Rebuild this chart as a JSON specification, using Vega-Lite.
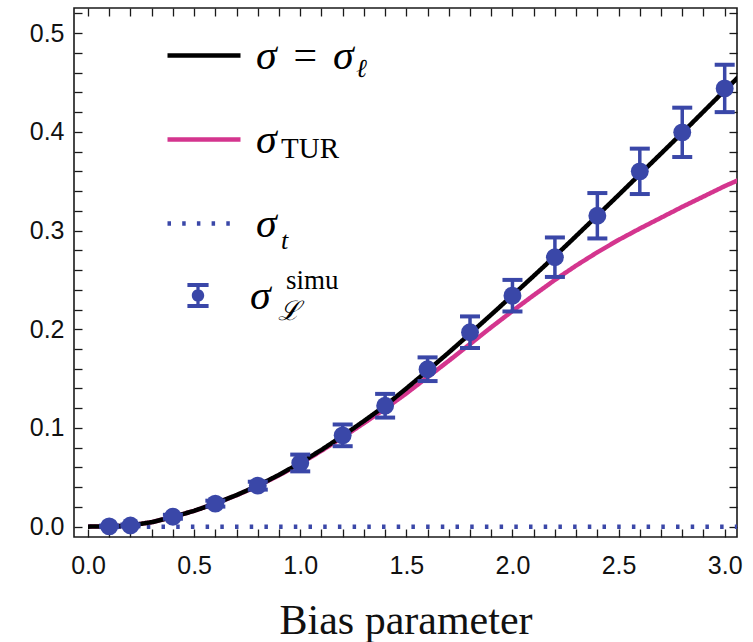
{
  "$schema": "https://vega.github.io/schema/vega-lite/v6.json",
  "width": 663,
  "height": 529,
  "autosize": {"type": "none"},
  "padding": {"left": 74, "top": 8, "right": 16, "bottom": 105},
  "background": "white",
  "config": {
    "view": {"stroke": "#1a1a1a", "strokeWidth": 1.6},
    "axis": {
      "grid": false,
      "domain": false,
      "labelFont": "Liberation Sans",
      "labelFontSize": 25,
      "labelColor": "#111111",
      "tickColor": "#1a1a1a",
      "tickWidth": 1.3,
      "tickSize": -8,
      "labelOverlap": false,
      "labelFlush": false
    }
  },
  "datasets": {
    "curves": [
      {"series": "t", "x": 0, "y": 0},
      {"series": "t", "x": 3.1, "y": 0},
      {"series": "TUR", "x": 0, "y": 0},
      {"series": "TUR", "x": 0.1, "y": 0.0002},
      {"series": "TUR", "x": 0.2, "y": 0.0012},
      {"series": "TUR", "x": 0.3, "y": 0.0045},
      {"series": "TUR", "x": 0.4, "y": 0.0098},
      {"series": "TUR", "x": 0.5, "y": 0.016},
      {"series": "TUR", "x": 0.6, "y": 0.0234},
      {"series": "TUR", "x": 0.7, "y": 0.0318},
      {"series": "TUR", "x": 0.8, "y": 0.0412},
      {"series": "TUR", "x": 0.9, "y": 0.052},
      {"series": "TUR", "x": 1.0, "y": 0.0638},
      {"series": "TUR", "x": 1.1, "y": 0.0768},
      {"series": "TUR", "x": 1.2, "y": 0.0905},
      {"series": "TUR", "x": 1.3, "y": 0.1048},
      {"series": "TUR", "x": 1.4, "y": 0.1195},
      {"series": "TUR", "x": 1.5, "y": 0.135},
      {"series": "TUR", "x": 1.6, "y": 0.1515},
      {"series": "TUR", "x": 1.7, "y": 0.168},
      {"series": "TUR", "x": 1.8, "y": 0.185},
      {"series": "TUR", "x": 1.9, "y": 0.202},
      {"series": "TUR", "x": 2.0, "y": 0.2185},
      {"series": "TUR", "x": 2.1, "y": 0.2345},
      {"series": "TUR", "x": 2.2, "y": 0.25},
      {"series": "TUR", "x": 2.3, "y": 0.2645},
      {"series": "TUR", "x": 2.4, "y": 0.278},
      {"series": "TUR", "x": 2.5, "y": 0.2905},
      {"series": "TUR", "x": 2.6, "y": 0.302},
      {"series": "TUR", "x": 2.7, "y": 0.313},
      {"series": "TUR", "x": 2.8, "y": 0.324},
      {"series": "TUR", "x": 2.9, "y": 0.3345},
      {"series": "TUR", "x": 3.0, "y": 0.345},
      {"series": "TUR", "x": 3.1, "y": 0.3545},
      {"series": "ell", "x": 0, "y": 0},
      {"series": "ell", "x": 0.1, "y": 0.0002},
      {"series": "ell", "x": 0.2, "y": 0.0012},
      {"series": "ell", "x": 0.3, "y": 0.0045},
      {"series": "ell", "x": 0.4, "y": 0.0098},
      {"series": "ell", "x": 0.5, "y": 0.016},
      {"series": "ell", "x": 0.6, "y": 0.0235},
      {"series": "ell", "x": 0.7, "y": 0.032},
      {"series": "ell", "x": 0.8, "y": 0.0415},
      {"series": "ell", "x": 0.9, "y": 0.0525},
      {"series": "ell", "x": 1.0, "y": 0.0645},
      {"series": "ell", "x": 1.1, "y": 0.0778},
      {"series": "ell", "x": 1.2, "y": 0.092},
      {"series": "ell", "x": 1.3, "y": 0.107},
      {"series": "ell", "x": 1.4, "y": 0.1225},
      {"series": "ell", "x": 1.5, "y": 0.14},
      {"series": "ell", "x": 1.6, "y": 0.158},
      {"series": "ell", "x": 1.7, "y": 0.1765},
      {"series": "ell", "x": 1.8, "y": 0.1955},
      {"series": "ell", "x": 1.9, "y": 0.2148},
      {"series": "ell", "x": 2.0, "y": 0.2343},
      {"series": "ell", "x": 2.1, "y": 0.254},
      {"series": "ell", "x": 2.2, "y": 0.274},
      {"series": "ell", "x": 2.3, "y": 0.2945},
      {"series": "ell", "x": 2.4, "y": 0.3152},
      {"series": "ell", "x": 2.5, "y": 0.336},
      {"series": "ell", "x": 2.6, "y": 0.357},
      {"series": "ell", "x": 2.7, "y": 0.378},
      {"series": "ell", "x": 2.8, "y": 0.399},
      {"series": "ell", "x": 2.9, "y": 0.4205},
      {"series": "ell", "x": 3.0, "y": 0.442},
      {"series": "ell", "x": 3.1, "y": 0.463}
    ],
    "simu": [
      {"series": "simu", "x": 0.1, "y": 0.0003, "lo": -0.0005, "hi": 0.0011},
      {"series": "simu", "x": 0.2, "y": 0.0012, "lo": 0.0002, "hi": 0.0022},
      {"series": "simu", "x": 0.4, "y": 0.01, "lo": 0.008, "hi": 0.012},
      {"series": "simu", "x": 0.6, "y": 0.0233, "lo": 0.0203, "hi": 0.0263},
      {"series": "simu", "x": 0.8, "y": 0.0415, "lo": 0.0375, "hi": 0.0455},
      {"series": "simu", "x": 1.0, "y": 0.0645, "lo": 0.056, "hi": 0.073},
      {"series": "simu", "x": 1.2, "y": 0.0925, "lo": 0.0815, "hi": 0.1035},
      {"series": "simu", "x": 1.4, "y": 0.1225, "lo": 0.1105, "hi": 0.1345},
      {"series": "simu", "x": 1.6, "y": 0.1595, "lo": 0.1475, "hi": 0.1715},
      {"series": "simu", "x": 1.8, "y": 0.197, "lo": 0.181, "hi": 0.213},
      {"series": "simu", "x": 2.0, "y": 0.234, "lo": 0.218, "hi": 0.25},
      {"series": "simu", "x": 2.2, "y": 0.273, "lo": 0.253, "hi": 0.293},
      {"series": "simu", "x": 2.4, "y": 0.315, "lo": 0.292, "hi": 0.338},
      {"series": "simu", "x": 2.6, "y": 0.36, "lo": 0.337, "hi": 0.383},
      {"series": "simu", "x": 2.8, "y": 0.3995, "lo": 0.3745, "hi": 0.4245},
      {"series": "simu", "x": 3.0, "y": 0.444, "lo": 0.42, "hi": 0.468}
    ]
  },
  "layer": [
    {
      "data": {"name": "curves"},
      "mark": {"type": "line", "strokeWidth": 4.5, "clip": true},
      "encoding": {
        "x": {
          "field": "x", "type": "quantitative",
          "scale": {"domain": [-0.066, 3.058], "nice": false, "zero": false},
          "axis": {
            "orient": "bottom",
            "values": [0, 0.1, 0.2, 0.3, 0.4, 0.5, 0.6, 0.7, 0.8, 0.9, 1, 1.1, 1.2, 1.3, 1.4, 1.5, 1.6, 1.7, 1.8, 1.9, 2, 2.1, 2.2, 2.3, 2.4, 2.5, 2.6, 2.7, 2.8, 2.9, 3],
            "labelExpr": "round(datum.value*10)%5===0 ? format(datum.value,'.1f') : ''",
            "labelPadding": 24,
            "title": "Bias parameter",
            "titleFont": "Liberation Serif",
            "titleFontSize": 42,
            "titleFontWeight": "normal",
            "titleColor": "#111111",
            "titlePadding": 22,
            "encode": {"ticks": {"update": {"y2": {"signal": "round(datum.value*10)%5===0 ? -8 : -4.5"}}}}
          }
        },
        "y": {
          "field": "y", "type": "quantitative",
          "scale": {"domain": [-0.0105, 0.5255], "nice": false, "zero": false},
          "axis": {
            "orient": "left",
            "values": [0, 0.02, 0.04, 0.06, 0.08, 0.1, 0.12, 0.14, 0.16, 0.18, 0.2, 0.22, 0.24, 0.26, 0.28, 0.3, 0.32, 0.34, 0.36, 0.38, 0.4, 0.42, 0.44, 0.46, 0.48, 0.5, 0.52],
            "labelExpr": "round(datum.value*100)%10===0 ? format(datum.value,'.1f') : ''",
            "labelPadding": 18,
            "title": null,
            "encode": {"ticks": {"update": {"x2": {"signal": "round(datum.value*100)%10===0 ? 8 : 4.5"}}}}
          }
        },
        "color": {
          "field": "series", "type": "nominal",
          "scale": {"domain": ["ell", "TUR", "t"], "range": ["#000000", "#d4358e", "#3a47a8"]},
          "legend": {
            "orient": "none", "legendX": 91, "legendY": 8.5, "direction": "vertical",
            "title": null, "padding": 0,
            "symbolType": "stroke", "symbolSize": 5329, "symbolStrokeWidth": 4.5,
            "rowPadding": 24,
            "labelFont": "Liberation Serif", "labelFontStyle": "italic", "labelFontSize": 42,
            "labelColor": "#000000", "labelOffset": 13, "labelLimit": 400,
            "labelExpr": "datum.value === 'ell' ? 'σ\u2004=\u2004σ' : 'σ'"
          }
        },
        "strokeDash": {
          "field": "series", "type": "nominal",
          "scale": {"domain": ["ell", "TUR", "t"], "range": [[1, 0], [1, 0], [3.5, 11.2]]}
        },
        "opacity": {
          "field": "series", "type": "nominal",
          "scale": {"domain": ["t", "TUR", "ell"], "range": [1, 1, 1]},
          "legend": {
            "orient": "none", "legendX": 115, "legendY": 22, "direction": "vertical",
            "title": null, "padding": 0,
            "values": ["ell", "TUR", "t"],
            "symbolType": "stroke", "symbolSize": 5329, "symbolStrokeWidth": 4.5,
            "rowPadding": 28,
            "labelFont": "Liberation Serif", "labelFontSize": 42, "labelColor": "#000000",
            "labelOffset": 14, "labelLimit": 400,
            "labelExpr": "datum.value === 'ell' ? 'ℓ' : datum.value === 'TUR' ? 'TUR' : 't'",
            "encode": {
              "symbols": {"update": {"strokeOpacity": {"value": 0}, "fillOpacity": {"value": 0}}},
              "labels": {
                "update": {
                  "fontSize": {"signal": "datum.value === 'TUR' ? 29 : 26"},
                  "dx": {"signal": "datum.value === 'ell' ? 75 : 0"},
                  "dy": {"signal": "datum.value === 't' ? 10 : 0"},
                  "fontStyle": {"signal": "datum.value === 'TUR' ? 'normal' : 'italic'"}
                }
              }
            }
          }
        }
      }
    },
    {
      "data": {"name": "simu"},
      "mark": {"type": "rule", "color": "#3a47a8"},
      "encoding": {
        "x": {
          "field": "x", "type": "quantitative",
          "scale": {"domain": [-0.066, 3.058], "nice": false, "zero": false},
          "axis": {
            "orient": "top",
            "values": [0, 0.1, 0.2, 0.3, 0.4, 0.5, 0.6, 0.7, 0.8, 0.9, 1, 1.1, 1.2, 1.3, 1.4, 1.5, 1.6, 1.7, 1.8, 1.9, 2, 2.1, 2.2, 2.3, 2.4, 2.5, 2.6, 2.7, 2.8, 2.9, 3],
            "labels": false, "title": null,
            "encode": {"ticks": {"update": {"y2": {"signal": "round(datum.value*10)%5===0 ? 8 : 4.5"}}}}
          }
        },
        "y": {
          "field": "lo", "type": "quantitative",
          "scale": {"domain": [-0.0105, 0.5255], "nice": false, "zero": false},
          "axis": {
            "orient": "right",
            "values": [0, 0.02, 0.04, 0.06, 0.08, 0.1, 0.12, 0.14, 0.16, 0.18, 0.2, 0.22, 0.24, 0.26, 0.28, 0.3, 0.32, 0.34, 0.36, 0.38, 0.4, 0.42, 0.44, 0.46, 0.48, 0.5, 0.52],
            "labels": false, "title": null,
            "encode": {"ticks": {"update": {"x2": {"signal": "round(datum.value*100)%10===0 ? -8 : -4.5"}}}}
          }
        },
        "y2": {"field": "hi"},
        "strokeWidth": {
          "field": "series", "type": "nominal",
          "scale": {"domain": ["simu", "c"], "range": [3.5, 3.5]},
          "legend": {
            "orient": "none", "legendX": 177, "legendY": 290, "direction": "vertical",
            "title": null, "padding": 0,
            "values": ["simu"],
            "symbolOpacity": 0,
            "labelFont": "Liberation Serif", "labelFontStyle": "italic", "labelFontSize": 27,
            "labelColor": "#000000", "labelOffset": 0, "labelLimit": 400,
            "labelExpr": "'ℒ'"
          }
        }
      }
    },
    {
      "data": {"name": "simu"},
      "mark": {"type": "tick", "orient": "horizontal", "size": 20, "thickness": 4, "color": "#3a47a8", "opacity": 1},
      "encoding": {
        "x": {"field": "x", "type": "quantitative", "scale": {"domain": [-0.066, 3.058], "nice": false, "zero": false}, "axis": null},
        "y": {"field": "lo", "type": "quantitative", "scale": {"domain": [-0.0105, 0.5255], "nice": false, "zero": false}, "axis": null}
      }
    },
    {
      "data": {"name": "simu"},
      "mark": {"type": "tick", "orient": "horizontal", "size": 20, "thickness": 4, "opacity": 1},
      "encoding": {
        "x": {"field": "x", "type": "quantitative", "scale": {"domain": [-0.066, 3.058], "nice": false, "zero": false}, "axis": null},
        "y": {"field": "hi", "type": "quantitative", "scale": {"domain": [-0.0105, 0.5255], "nice": false, "zero": false}, "axis": null},
        "fill": {
          "field": "series", "type": "nominal",
          "scale": {"domain": ["simu", "b"], "range": ["#3a47a8", "#3a47a8"]},
          "legend": {
            "orient": "none", "legendX": 123, "legendY": 235.5, "direction": "vertical",
            "title": null, "padding": 0,
            "values": ["simu"],
            "symbolType": "stroke", "symbolSize": 5329, "symbolOpacity": 0,
            "labelFont": "Liberation Serif", "labelFontSize": 27,
            "labelColor": "#000000", "labelOffset": 14, "labelLimit": 400,
            "labelExpr": "'simu'"
          }
        }
      }
    },
    {
      "data": {"name": "simu"},
      "mark": {"type": "point", "filled": true, "size": 320, "color": "#3a47a8", "opacity": 1},
      "encoding": {
        "x": {"field": "x", "type": "quantitative", "scale": {"domain": [-0.066, 3.058], "nice": false, "zero": false}, "axis": null},
        "y": {"field": "y", "type": "quantitative", "scale": {"domain": [-0.0105, 0.5255], "nice": false, "zero": false}, "axis": null}
      }
    },
    {
      "data": {"name": "simu"},
      "mark": {"type": "point", "filled": true, "color": "#3a47a8", "opacity": 0},
      "encoding": {
        "x": {"field": "x", "type": "quantitative", "scale": {"domain": [-0.066, 3.058], "nice": false, "zero": false}, "axis": null},
        "y": {"field": "y", "type": "quantitative", "scale": {"domain": [-0.0105, 0.5255], "nice": false, "zero": false}, "axis": null},
        "shape": {
          "field": "series", "type": "nominal",
          "scale": {"domain": ["simu"], "range": ["M-0.29 -0.345H0.29V-0.235H-0.29ZM-0.045 -0.29H0.045V0.29H-0.045ZM-0.29 0.235H0.29V0.345H-0.29ZM0.17 0A0.17 0.17 0 1 1 -0.17 0A0.17 0.17 0 1 1 0.17 0Z"]},
          "legend": {
            "orient": "none", "legendX": 86.5, "legendY": 250, "direction": "vertical",
            "title": null, "padding": 0,
            "symbolSize": 5329, "symbolOpacity": 1,
            "symbolFillColor": "#3a47a8",
            "labelFont": "Liberation Serif", "labelFontStyle": "italic", "labelFontSize": 42,
            "labelColor": "#000000", "labelOffset": 14.5, "labelLimit": 400,
            "labelExpr": "'σ'"
          }
        }
      }
    }
  ],
  "resolve": {"axis": {"x": "independent", "y": "independent"}}
}
